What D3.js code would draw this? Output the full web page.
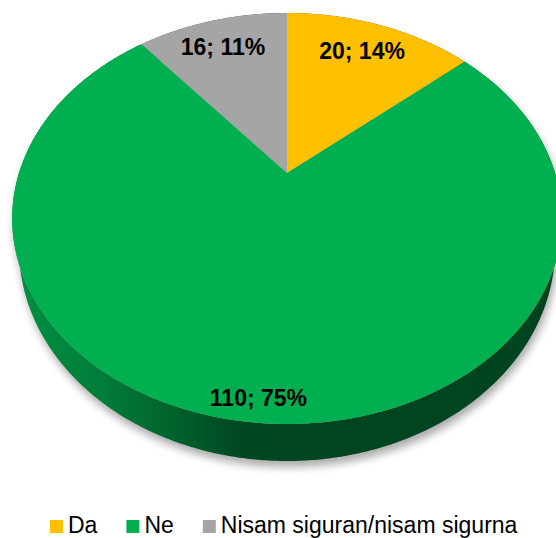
<!DOCTYPE html>
<meta charset="utf-8">
<style>
body { margin: 0; background: #fff; }
text { font-family: "Liberation Sans", Arial, sans-serif; }
.lbl { font-weight: bold; font-size: 23px; fill: #000; }
.legend text { font-size: 23px; fill: #000; }
</style>
<svg width="556" height="538"></svg>
<script src="https://d3js.org/d3.v7.min.js"></script>
<script>
var categories = ["Da", "Ne", "Nisam siguran/nisam sigurna"];
var counts = [20, 110, 16];
var percents = ["14%", "75%", "11%"];
var colors = ["#ffc000", "#00b050", "#a5a5a5"];

var svg = d3.select("svg");

// perspective of the tilted pie
var cx = 287, cy = 173, A = 268, B = 195.4, P = 0.2215, H = 28.8, S = 0.975;
function proj(a, r, h) {
  var x = r * Math.sin(a), z = r * Math.cos(a), w = 1 + P * z;
  var k = h ? S : 1;  // bottom rim sits a bit narrower
  return [cx + k * A * x / w, cy + (-B * z + (h || 0)) / w];
}
function arcPts(a0, a1, h) {
  var n = Math.max(2, Math.ceil(Math.abs(a1 - a0) / 0.008)), pts = [];
  for (var i = 0; i <= n; i++) pts.push(proj(a0 + (a1 - a0) * i / n, 1, h));
  return pts;
}

var pie = d3.pie().sort(null).startAngle(0).endAngle(2 * Math.PI);
var arcs = pie(counts);
var line = d3.line();

var defs = svg.append("defs");
defs.append("filter").attr("id", "shadow")
    .attr("x", "-10%").attr("y", "-10%").attr("width", "120%").attr("height", "130%")
  .append("feGaussianBlur").attr("stdDeviation", 4);

arcs.forEach(function(d, i) {
  var c = d3.color(colors[i]);
  var g = defs.append("linearGradient").attr("id", "side" + i)
      .attr("gradientUnits", "userSpaceOnUse")
      .attr("x1", 12).attr("x2", 562).attr("y1", 0).attr("y2", 0);
  [[0, 0.55], [0.16, 0.95], [0.29, 1.6], [0.42, 2.6], [1, 2.7]].forEach(function(s) {
    g.append("stop").attr("offset", s[0]).attr("stop-color", c.darker(s[1]));
  });
});

// soft shadow under the disk
var hull = d3.polygonHull(arcPts(0, 2 * Math.PI, 0).concat(arcPts(0, 2 * Math.PI, H)));
svg.append("path")
    .attr("d", line(hull) + "Z")
    .attr("transform", "translate(2,6)")
    .attr("fill", "#000")
    .attr("opacity", 0.33)
    .attr("filter", "url(#shadow)");

// sides
svg.selectAll(".side")
  .data(arcs)
  .enter().append("path")
    .attr("class", "side")
    .attr("fill", function(d, i) { return "url(#side" + i + ")"; })
    .attr("d", function(d) {
      var top = arcPts(d.startAngle, d.endAngle, 0);
      var bot = arcPts(d.endAngle, d.startAngle, H);
      return line(top.concat(bot)) + "Z";
    });

// top faces
svg.selectAll(".slice")
  .data(arcs)
  .enter().append("path")
    .attr("class", "slice")
    .attr("fill", function(d, i) { return colors[i]; })
    .attr("d", function(d) {
      return line([[cx, cy]].concat(arcPts(d.startAngle, d.endAngle, 0))) + "Z";
    });

// data labels
svg.selectAll(".lbl")
  .data(arcs)
  .enter().append("text")
    .attr("class", "lbl")
    .attr("text-anchor", "middle")
    .attr("dy", "0.36em")
    .attr("transform", function(d) {
      var r = (d.endAngle - d.startAngle) > Math.PI ? 0.92 : 0.8;
      var p = proj((d.startAngle + d.endAngle) / 2, r, 0);
      return "translate(" + (p[0] - 2) + "," + p[1] + ")";
    })
    .text(function(d, i) { return counts[i] + "; " + percents[i]; });

// legend
var legend = svg.append("g").attr("class", "legend");
var items = legend.selectAll("g")
  .data(categories)
  .enter().append("g");
items.append("rect")
    .attr("width", 13).attr("height", 13)
    .attr("y", 520)
    .attr("fill", function(d, i) { return colors[i]; });
items.append("text")
    .attr("x", 18).attr("y", 533)
    .text(function(d) { return d; });
var xpos = 0;
items.each(function() {
  var t = d3.select(this).select("text").node().getComputedTextLength();
  d3.select(this).attr("transform", "translate(" + xpos + ",0)");
  xpos += 18 + t + 29;
});
legend.attr("transform", "translate(50,0)");
</script>
